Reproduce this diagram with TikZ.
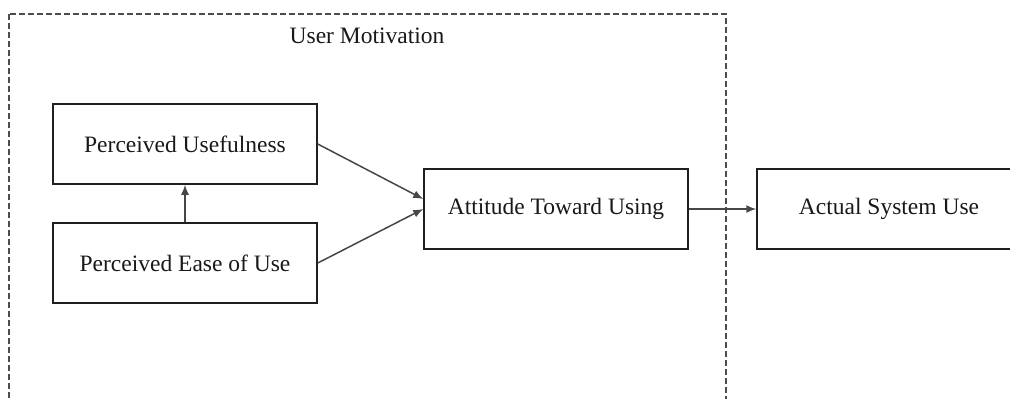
\documentclass[tikz,border=0pt]{standalone}
\usepackage{fontspec}
\setmainfont{Liberation Serif}
\usetikzlibrary{arrows.meta}
\begin{document}
\begin{tikzpicture}[x=1pt,y=-1pt,
  box/.style={draw=black!88, line width=1.5pt, minimum width=264pt, minimum height=80pt, inner sep=0pt, font=\fontsize{23.5}{28}\selectfont, text=black!90},
  conn/.style={draw=black!72, line width=1.5pt, -{Latex[length=10pt,width=8pt]}},
  group/.style={draw=black!70, line width=1.1pt, dash pattern=on 6pt off 3pt}]
\useasboundingbox (0,0) rectangle (1010,399);
\clip (0,0) rectangle (1010,399);
\fill[white] (0,0) rectangle (1010,399);
\draw[group] (9,14) rectangle (726,430);
\node[font=\fontsize{23.5}{28}\selectfont, text=black!90] (title) at (367,36) {User Motivation};
\node[box] (pu) at (185,144) {Perceived Usefulness};
\node[box] (peou) at (185,263) {Perceived Ease of Use};
\node[box] (atu) at (556,209) {Attitude Toward Using};
\node[box] (asu) at (889,209) {Actual System Use};
\draw[conn] (pu.east) -- ([yshift=10pt]atu.west);
\draw[conn] (peou.east) -- (atu.west);
\draw[conn] (peou.north) -- (pu.south);
\draw[conn] (atu.east) -- (asu.west);
\end{tikzpicture}
\end{document}
